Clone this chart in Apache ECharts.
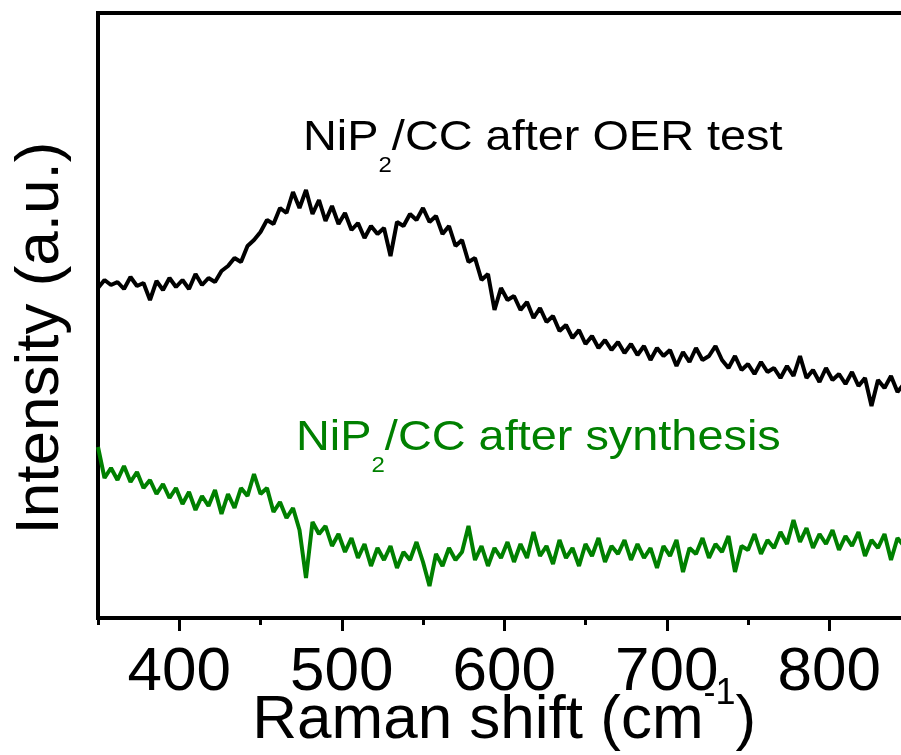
<!DOCTYPE html>
<html>
<head>
<meta charset="utf-8">
<script src="https://cdn.jsdelivr.net/npm/echarts@6/dist/echarts.min.js"></script>
<style>html,body{margin:0;padding:0;background:#fff;}#chart{width:901px;height:755px;}</style>
</head>
<body>
<div id="chart"></div>
<script>
// Raman shift (cm^-1)
var ramanShift = [350,354,358,362,366,370,374,378,382,386,390,394,398,402,406,410,414,418,422,426,430,434,438,442,446,450,454,458,462,466,470,474,478,482,486,490,494,498,502,506,510,514,518,522,526,530,534,538,542,546,550,554,558,562,566,570,574,578,582,586,590,594,598,602,606,610,614,618,622,626,630,634,638,642,646,650,654,658,662,666,670,674,678,682,686,690,694,698,702,706,710,714,718,722,726,730,734,738,742,746,750,754,758,762,766,770,774,778,782,786,790,794,798,802,806,810,814,818,822,826,830,834,838,842,846,850];
// NiP2/CC after OER test (a.u.)
var afterOER = [330,338,333,336,329,341,332,335,318,337,
328,340,331,338,329,344,333,340,336,347,
352,360,356,372,378,386,398,394,410,405,
426,410,428,404,418,397,412,394,405,388,
395,380,392,384,390,362,396,392,404,398,
410,396,402,384,392,372,378,356,360,338,
344,308,330,318,322,308,316,300,310,296,
302,287,293,280,288,274,282,270,278,268,
276,265,274,263,272,258,270,262,268,252,
266,256,270,258,262,272,258,250,262,248,
254,244,256,246,250,240,252,242,262,240,
248,236,250,238,244,234,246,232,240,212,
238,230,242,226,234,228];
// NiP2/CC after synthesis (a.u.)
var afterSynthesis = [171,140,150,138,152,136,146,130,138,124,
134,120,130,114,126,108,122,112,128,104,
124,110,130,122,144,124,130,106,116,100,
110,88,40,96,84,92,72,84,66,80,
60,74,52,70,58,72,50,66,58,76,
56,32,64,52,70,58,66,92,58,72,
52,70,60,76,56,74,60,86,62,72,
54,78,60,70,52,74,62,80,56,72,
64,78,58,74,60,70,50,72,62,78,
46,70,64,80,60,74,66,82,46,72,
68,84,64,78,70,86,74,98,76,90,
70,84,74,88,68,82,72,86,62,78,
70,84,58,80,72,82];
var majorTicks = [400,500,600,700,800];
var minorTicks = [350,450,550,650,750,850];
var xRange = [350, 850];
var yRange = [0, 605];

function pairs(xs, ys){ return xs.map(function(x,i){ return [x, ys[i]]; }); }

var FONT = 'Liberation Sans, Arial, sans-serif';
var chart = echarts.init(document.getElementById('chart'), null, {renderer:'canvas'});
chart.setOption({
  animation: false,
  backgroundColor: '#fff',
  grid: { left: 98, top: 13, width: 812.5, height: 605, show: true, borderColor: '#000', borderWidth: 4,
          containLabel: false, outerBoundsMode: 'none' },
  xAxis: [{
    type: 'value', min: xRange[0], max: xRange[1],
    axisLine: { show: true, onZero: false, lineStyle: { color: '#000', width: 4 } },
    axisTick: { show: true, customValues: majorTicks, length: 13, lineStyle: { color: '#000', width: 3 } },
    axisLabel: { show: true, customValues: majorTicks, fontSize: 62, fontFamily: FONT, color: '#000', margin: 24 },
    splitLine: { show: false },
    name: '{m|Raman shift (cm}{s|-1}{m|)}',
    nameLocation: 'middle', nameGap: 58, nameMoveOverlap: false,
    nameTextStyle: { color: '#000', fontFamily: FONT, fontSize: 62,
      rich: { m: { fontSize: 62, lineHeight: 89, fontFamily: FONT, color: '#000' },
              s: { fontSize: 36, lineHeight: 36, verticalAlign: 'top', fontFamily: FONT, color: '#000' } } }
  }, {
    type: 'value', min: xRange[0], max: xRange[1], position: 'bottom',
    axisLine: { show: false },
    axisTick: { show: true, customValues: minorTicks, length: 7, lineStyle: { color: '#000', width: 3 } },
    axisLabel: { show: false },
    splitLine: { show: false }
  }],
  yAxis: {
    type: 'value', min: yRange[0], max: yRange[1],
    axisLine: { show: true, onZero: false, lineStyle: { color: '#000', width: 4 } },
    axisTick: { show: false }, axisLabel: { show: false }, splitLine: { show: false },
    name: 'Intensity (a.u.)', nameLocation: 'middle', nameGap: 26, nameMoveOverlap: false,
    nameTextStyle: { color: '#000', fontFamily: FONT, fontSize: 62, padding: [0, 45, 0, 0] }
  },
  series: [{
    name: 'NiP2/CC after OER test', type: 'line', xAxisIndex: 0, showSymbol: false, symbol: 'none',
    data: pairs(ramanShift, afterOER), lineStyle: { color: '#000', width: 4 }, itemStyle: { color: '#000' }
  }, {
    name: 'NiP2/CC after synthesis', type: 'line', xAxisIndex: 0, showSymbol: false, symbol: 'none',
    data: pairs(ramanShift, afterSynthesis), lineStyle: { color: '#008000', width: 4 }, itemStyle: { color: '#008000' }
  }],
  graphic: [{
    type: 'text', x: 303, y: 99.8, scaleX: 1.09, silent: true,
    style: { text: '{m|NiP}{s|2}{m|/CC after OER test}', fill: '#000', fontFamily: FONT, verticalAlign: 'top', align: 'left',
      rich: { m: { fontSize: 43, lineHeight: 77, fontFamily: FONT, fill: '#000' },
              s: { fontSize: 22, lineHeight: 22, verticalAlign: 'bottom', fontFamily: FONT, fill: '#000' } } }
  }, {
    type: 'text', x: 296, y: 399.8, scaleX: 1.09, silent: true,
    style: { text: '{m|NiP}{s|2}{m|/CC after synthesis}', fill: '#008000', fontFamily: FONT, verticalAlign: 'top', align: 'left',
      rich: { m: { fontSize: 43, lineHeight: 77, fontFamily: FONT, fill: '#008000' },
              s: { fontSize: 22, lineHeight: 22, verticalAlign: 'bottom', fontFamily: FONT, fill: '#008000' } } }
  }]
});
</script>
</body>
</html>
